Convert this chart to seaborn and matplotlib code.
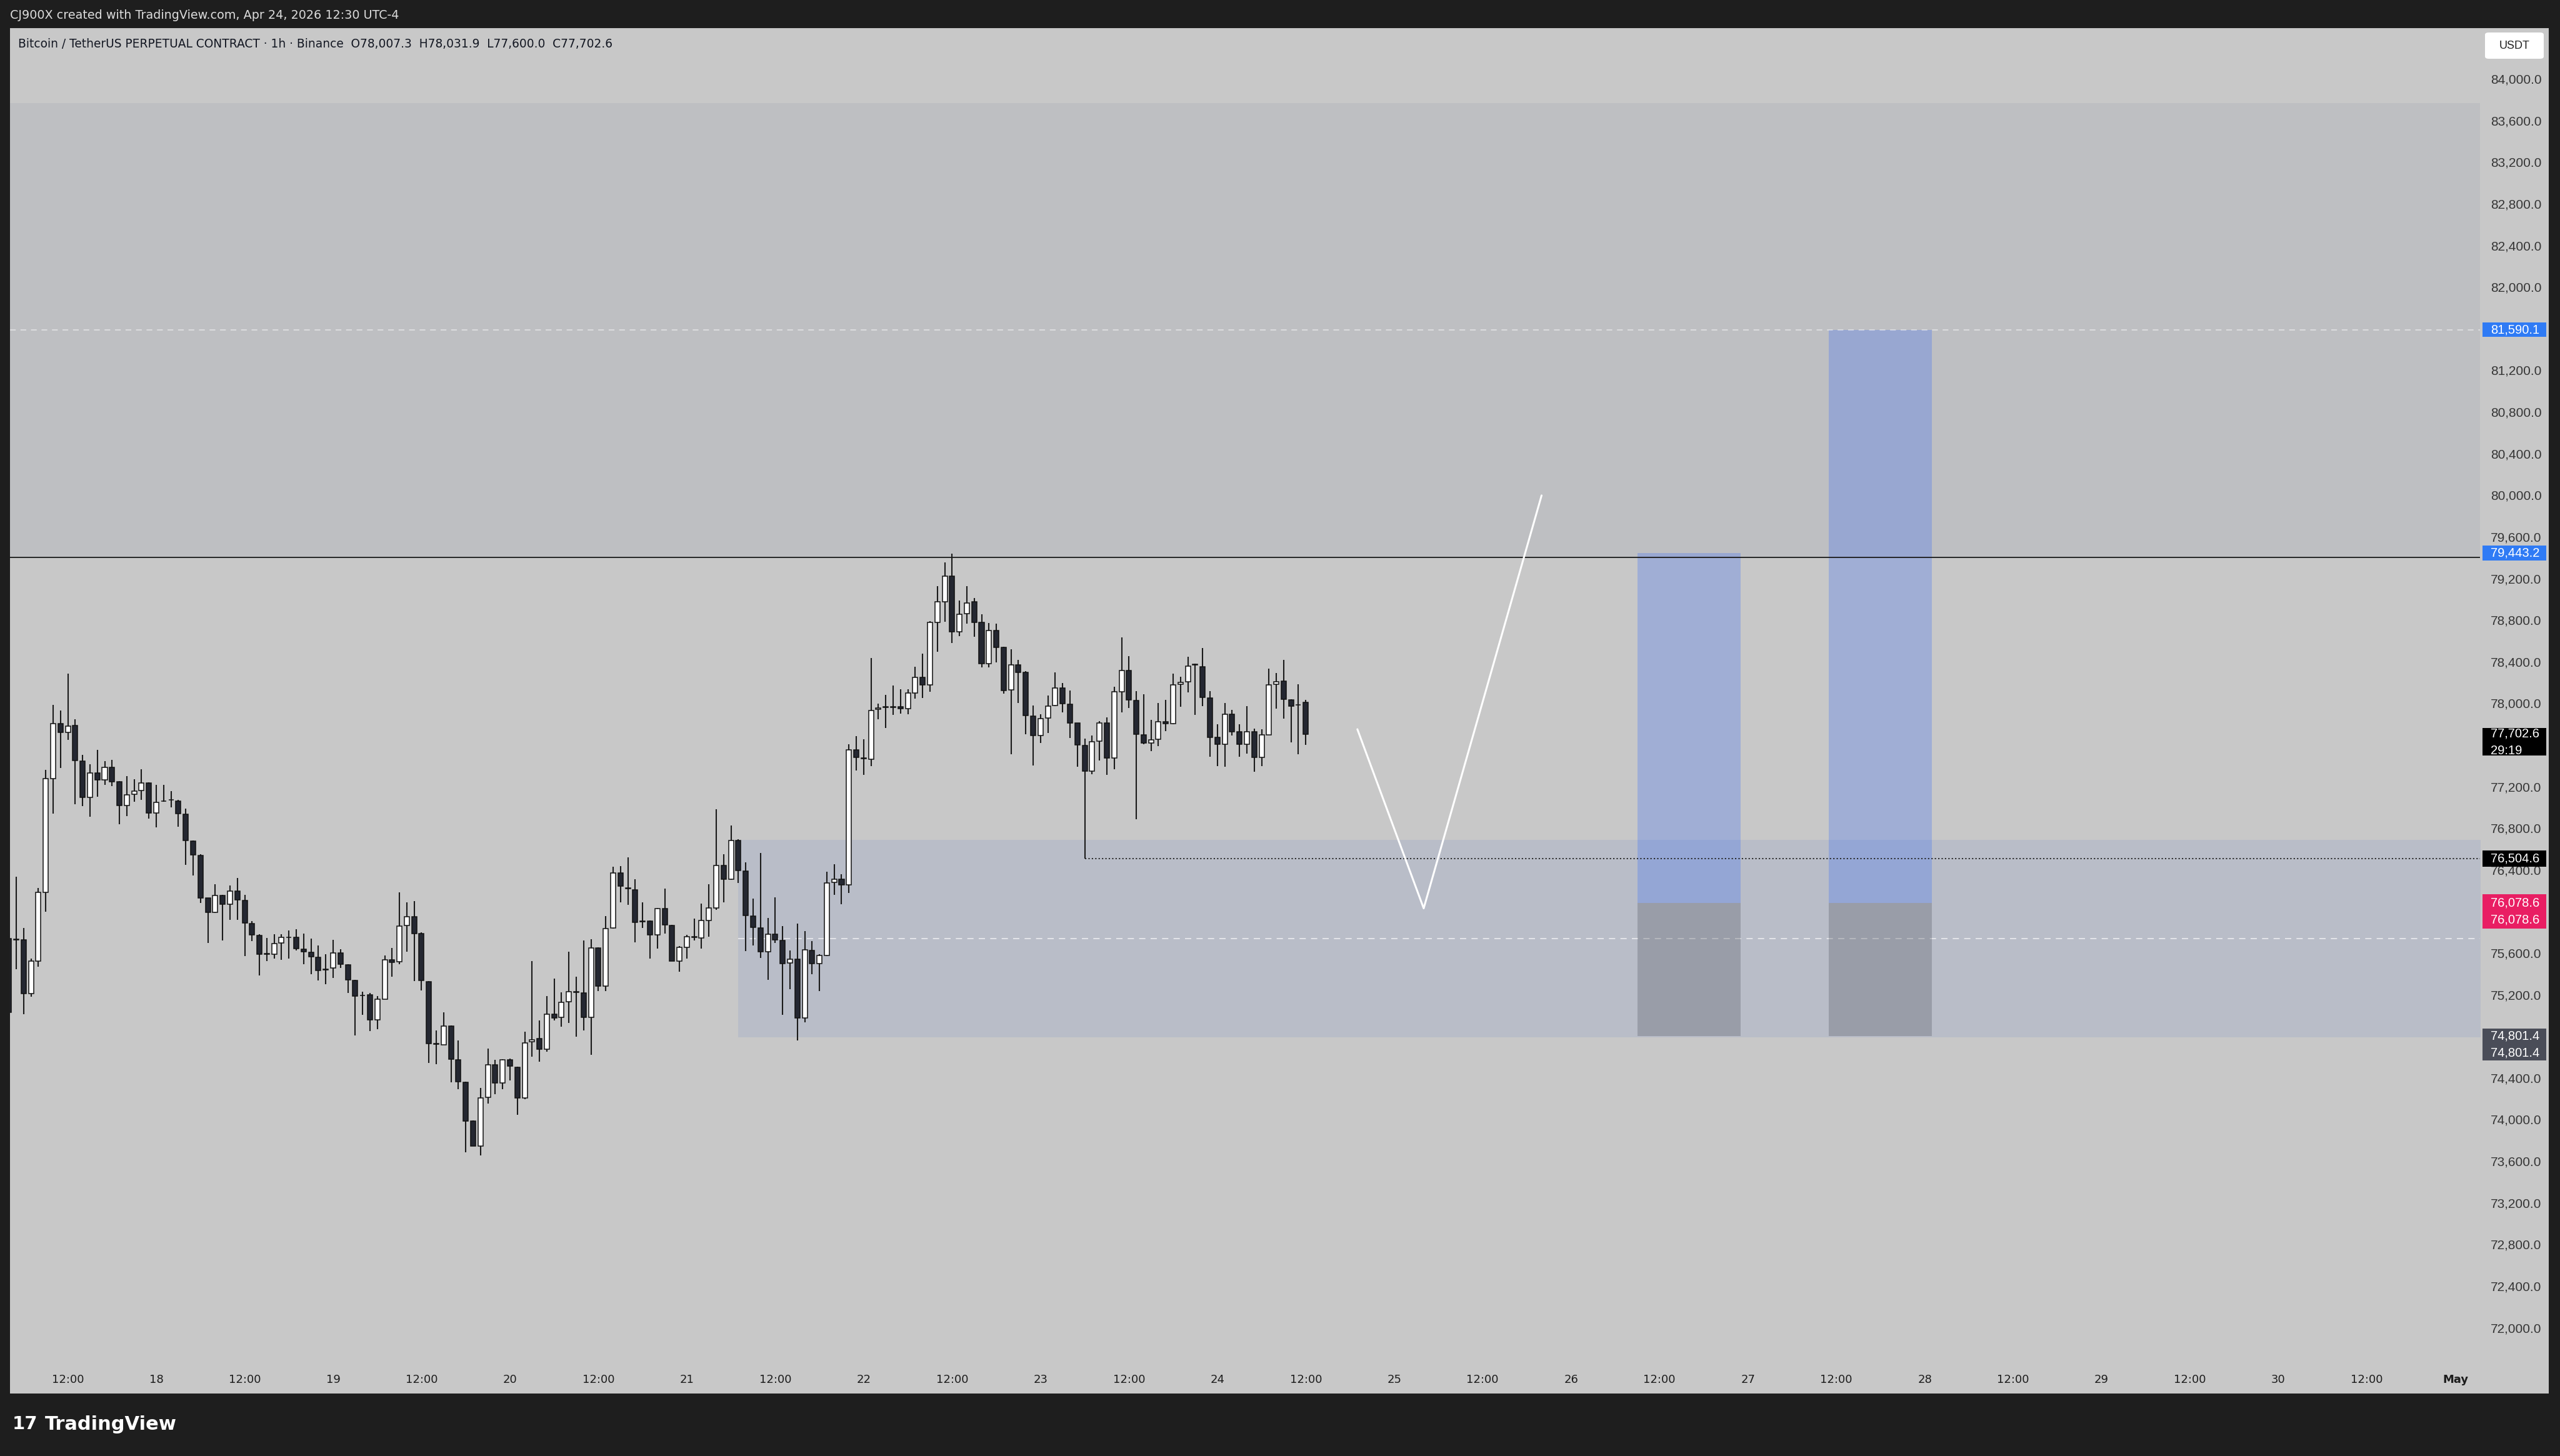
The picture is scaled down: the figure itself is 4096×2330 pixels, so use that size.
import numpy as np
import pandas as pd
import matplotlib
matplotlib.use("Agg")
import matplotlib.pyplot as plt
import matplotlib.dates as mdates
import matplotlib.transforms as mtransforms
from matplotlib.patches import Rectangle, FancyBboxPatch
import seaborn as sns

# BTCUSDT perp, 1h candles, Apr 17 04:00 -> Apr 24 12:00 (UTC-4)
first_candle = "2026-04-17 04:00"

opens = [
    75740, 75732, 75725, 75208, 75525, 76181, 77278, 77802, 77722, 77784,
    77446, 77096, 77331, 77266, 77381, 77246, 77016, 77124, 77163, 77232,
    76947, 77062, 77073, 77060, 76935, 76676, 76538, 76128, 75990, 76151,
    76066, 76192, 76105, 75882, 75767, 75592, 75591, 75695, 75751, 75749,
    75639, 75609, 75559, 75444, 75458, 75601, 75488, 75338, 75194, 75200,
    74958, 75154, 75535, 75515, 75865, 75949, 75789, 75324, 74727, 74719,
    74898, 74573, 74357, 73986, 73742, 74213, 74527, 74353, 74573, 74503,
    74207, 74745, 74777, 74677, 75010, 74984, 75134, 75226, 75214, 74984,
    75649, 75284, 75839, 76370, 76224, 76209, 75903, 75909, 75775, 76029,
    75865, 75525, 75655, 75757, 75745, 75915, 76031, 76440, 76310, 76680,
    76386, 75955, 75841, 75615, 75779, 75721, 75504, 75540, 74974, 75624,
    75497, 75576, 76280, 76308, 76254, 77552, 77471, 77463, 77945, 77966,
    77966, 77968, 77950, 78099, 78249, 78179, 78777, 78974, 79219, 78688,
    78862, 78974, 78777, 78379, 78697, 78538, 78131, 78369, 78296, 77876,
    77692, 77860, 77978, 78147, 77990, 77808, 77594, 77347, 77638, 77808,
    77473, 78112, 78313, 78028, 77698, 77618, 77654, 77824, 77804, 78182,
    78204, 78372, 78353, 78052, 77672, 77604, 77894, 77724, 77604, 77724,
    77481, 77698, 78182, 78212, 78034, 77982, 78007.3,
]
highs = [
    75760, 76335, 75840, 75548, 76227, 77361, 77986, 77929, 78285, 77848,
    77503, 77411, 77549, 77446, 77457, 77250, 77297, 77269, 77365, 77239,
    77217, 77216, 77158, 77071, 76986, 76680, 76549, 76128, 76261, 76158,
    76250, 76323, 76158, 75909, 75778, 75744, 75781, 75779, 75815, 75829,
    75789, 75739, 75675, 75589, 75729, 75639, 75494, 75344, 75230, 75214,
    75184, 75575, 75649, 76181, 76085, 76101, 75799, 75328, 74858, 75028,
    74904, 74757, 74363, 73992, 74303, 74683, 74573, 74580, 74583, 74507,
    74843, 75521, 74954, 75184, 75354, 75224, 75614, 75374, 75719, 75735,
    75655, 75955, 76426, 76436, 76516, 76306, 76085, 75915, 76035, 76216,
    75869, 75665, 75775, 75931, 76075, 76262, 76983, 76550, 76826, 76696,
    76470, 76125, 76560, 75935, 76135, 75859, 75625, 75885, 75809, 75713,
    75586, 76381, 76451, 76359, 77606, 77685, 77654, 78433, 77994, 78083,
    78169, 78137, 78137, 78353, 78474, 78790, 79126, 79356, 79435, 78990,
    79123, 79012, 78856, 78773, 78767, 78544, 78519, 78417, 78306, 77978,
    77892, 78073, 78296, 78194, 78124, 77812, 77662, 77692, 77828, 77862,
    78158, 78633, 78453, 78118, 78088, 77842, 78004, 78032, 78284, 78252,
    78445, 78379, 78529, 78118, 77798, 78004, 77938, 77798, 77974, 77758,
    77748, 78333, 78293, 78419, 78038, 78184, 78031.9,
]
lows = [
    75000, 75445, 75012, 75180, 75468, 75997, 76940, 77377, 77648, 77027,
    77013, 76910, 77101, 77216, 77204, 76836, 76917, 77055, 77073, 76894,
    76806, 77054, 76997, 76813, 76445, 76342, 76082, 75698, 75985, 75721,
    75916, 75916, 75571, 75714, 75387, 75521, 75545, 75535, 75545, 75625,
    75494, 75394, 75338, 75298, 75358, 75454, 75218, 74807, 75008, 74847,
    74867, 75154, 75370, 75495, 75611, 75328, 75240, 74543, 74533, 74719,
    74357, 74293, 73682, 73742, 73652, 74152, 74243, 74293, 74373, 74046,
    74197, 74603, 74553, 74653, 74954, 74894, 74928, 74793, 74853, 74623,
    75234, 75234, 75835, 76089, 76061, 75705, 75839, 75545, 75641, 75785,
    75521, 75420, 75545, 75719, 75645, 75755, 76015, 76089, 76302, 76270,
    75619, 75675, 75555, 75344, 75695, 75004, 75254, 74759, 74934, 75395,
    75236, 75570, 76159, 76069, 76174, 77351, 77310, 77393, 77845, 77765,
    77886, 77902, 77892, 78045, 78051, 78109, 78497, 78783, 78576, 78646,
    78767, 78640, 78347, 78347, 78395, 78093, 77511, 78004, 77701, 77399,
    77616, 77711, 77972, 77915, 77663, 77387, 76504.6, 77317, 77447, 77311,
    77367, 77914, 77954, 76886, 77608, 77538, 77588, 77732, 77798, 77968,
    78104, 77888, 77972, 77483, 77393, 77387, 77692, 77483, 77513, 77341,
    77393, 77698, 77948, 77852, 77622, 77507, 77600.0,
]
closes = [
    75030, 75728, 75208, 75525, 76181, 77278, 77802, 77722, 77779, 77450,
    77096, 77331, 77266, 77381, 77246, 77016, 77117, 77154, 77232, 76947,
    77048, 77058, 77070, 76940, 76680, 76542, 76128, 75990, 76151, 76066,
    76192, 76112, 75886, 75774, 75587, 75589, 75689, 75749, 75748, 75641,
    75613, 75565, 75434, 75441, 75601, 75494, 75344, 75188, 75190, 74958,
    75154, 75535, 75513, 75861, 75949, 75789, 75334, 74727, 74724, 74898,
    74577, 74363, 73986, 73742, 74207, 74527, 74353, 74573, 74513, 74207,
    74733, 74765, 74677, 75010, 74978, 75128, 75228, 75222, 74984, 75649,
    75284, 75835, 76366, 76242, 76220, 75895, 75907, 75775, 76029, 75871,
    75525, 75653, 75755, 75753, 75911, 76031, 76440, 76310, 76680, 76392,
    75961, 75845, 75615, 75779, 75725, 75500, 75538, 74974, 75631, 75497,
    75576, 76270, 76308, 76254, 77552, 77479, 77467, 77930, 77952, 77963,
    77963, 77950, 78099, 78249, 78179, 78777, 78974, 79219, 78688, 78856,
    78964, 78777, 78379, 78697, 78538, 78124, 78369, 78299, 77883, 77692,
    77854, 77972, 78147, 77994, 77812, 77602, 77347, 77628, 77808, 77473,
    78112, 78313, 78034, 77702, 77618, 77648, 77824, 77804, 78178, 78198,
    78359, 78368, 78058, 77674, 77604, 77894, 77728, 77604, 77724, 77481,
    77698, 78174, 78208, 78038, 77972, 77985, 77702.6,
]

# drawings
resistance = 79400.0
upper_zone = (79400.0, 83770.0)
demand_zone = (74790.0, 76686.0)
demand_start = "2026-04-21 07:00"
swing_low = 76504.6
swing_low_time = "2026-04-23 06:00"
path_times = ["2026-04-24 19:00", "2026-04-25 04:00", "2026-04-25 20:00"]
path_prices = [77750, 76029, 79997]
pos_starts = ["2026-04-26 09:00", "2026-04-27 11:00"]
pos_hours = 14
pos_targets = [79443.2, 81590.1]
pos_entry = 76078.6
pos_stop = 74801.4
countdown = "29:19"

price_ticks = list(range(72000, 84001, 400))
tick_times = pd.date_range("2026-04-17 12:00", "2026-05-01 00:00", freq="12h")

W, H = 4096, 2330
BG = "#c8c8c8"
sns.set_style("white", {"axes.facecolor": BG})
plt.rcParams["font.family"] = ["DejaVu Sans"]

fig = plt.figure(figsize=(W / 100, H / 100), dpi=100, facecolor="#1e1e1e")
fig.add_artist(Rectangle((16 / W, 1 - 2230 / H), (4078 - 16) / W, (2230 - 45) / H,
                         transform=fig.transFigure, facecolor=BG, edgecolor="none", zorder=0))
ax = fig.add_axes([16 / W, 1 - 2230 / H, (3968 - 16) / W, (2230 - 45) / H])
ax.set_facecolor(BG)
for s in ax.spines.values():
    s.set_visible(False)

times = pd.date_range(first_candle, periods=len(opens), freq="h")
xs = mdates.date2num(times.to_pydatetime())
o = np.array(opens); h = np.array(highs); l = np.array(lows); c = np.array(closes)
x_right = mdates.date2num(pd.Timestamp("2026-05-01 03:21").to_pydatetime())
x_left = mdates.date2num(pd.Timestamp("2026-04-17 04:09").to_pydatetime())
hour = 1 / 24

# zones
ax.axhspan(*upper_zone, color="#bebfc2", lw=0, zorder=0.5)
zx = mdates.date2num(pd.Timestamp(demand_start).to_pydatetime())
ax.fill_between([zx, x_right + 1], demand_zone[0], demand_zone[1], color="#b9bdc8", lw=0, zorder=0.6)
ax.hlines(np.mean(demand_zone), zx, x_right + 1, color="white", alpha=0.7, lw=1.2,
          linestyles=(0, (6, 5)), zorder=0.7)

# long position boxes
for start, tgt in zip(pos_starts, pos_targets):
    bx = mdates.date2num(pd.Timestamp(start).to_pydatetime())
    ax.bar(bx, tgt - pos_entry, bottom=pos_entry, width=pos_hours * hour, align="edge",
           color=(41 / 255, 98 / 255, 1.0, 0.25), lw=0, zorder=1)
    ax.bar(bx, pos_entry - pos_stop, bottom=pos_stop, width=pos_hours * hour, align="edge",
           color=(90 / 255, 94 / 255, 104 / 255, 0.33), lw=0, zorder=1)

# horizontal levels
ax.axhline(resistance, color="#1a1a1a", lw=1.3, zorder=2)
ax.axhline(pos_targets[1], color="white", alpha=0.6, lw=1.1, ls=(0, (6, 5)), zorder=1.5)
sx = mdates.date2num(pd.Timestamp(swing_low_time).to_pydatetime())
ax.hlines(swing_low, sx, x_right + 1, color="#202020", lw=1.3, linestyles=(0, (1.2, 1.8)), zorder=2)

# candles
up = c >= o
ax.vlines(xs, l, h, color="#1b1b1b", lw=1.5, zorder=3)
body_lo = np.minimum(o, c)
body_hi = np.maximum(o, c)
ax.bar(xs, body_hi - body_lo, bottom=body_lo, width=0.68 * hour,
       color=np.where(up, "#ffffff", "#242731"), edgecolor="#111111", lw=1.1, zorder=4)

# projected path
path_x = mdates.date2num(pd.to_datetime(path_times).to_pydatetime())
sns.lineplot(x=path_x, y=path_prices, color="white", lw=2.2, sort=False, estimator=None, ax=ax, zorder=3)

ax.set_xlim(x_left, x_right)
ax.set_ylim(71366.7, 84487.6)

# price axis tags (text lines, top, bottom, colour)
tags = [
    ([(f"{pos_targets[1]:,.1f}", pos_targets[1])], pos_targets[1] + 70, pos_targets[1] - 70, "#2f7bf5"),
    ([(f"{pos_targets[0]:,.1f}", pos_targets[0])], pos_targets[0] + 70, pos_targets[0] - 70, "#2f7bf5"),
    ([(f"{closes[-1]:,.1f}", closes[-1] + 5), (countdown, closes[-1] - 160)], closes[-1] + 62, closes[-1] - 205, "#000000"),
    ([(f"{swing_low:,.1f}", swing_low)], swing_low + 78, swing_low - 78, "#000000"),
    ([(f"{pos_entry:,.1f}", pos_entry), (f"{pos_entry:,.1f}", pos_entry - 162)], pos_entry + 88, pos_entry - 242, "#e91e63"),
    ([(f"{pos_stop:,.1f}", pos_stop), (f"{pos_stop:,.1f}", pos_stop - 164)], pos_stop + 75, pos_stop - 237, "#4a4d58"),
]


def covered(p):
    # tick labels sitting fully under a tag are not visible in the reference
    return any(bot + 40 < p < top - 40 for _, top, bot, _ in tags)


ax.yaxis.tick_right()
ax.set_yticks(price_ticks)
ax.set_yticklabels(["" if covered(p) else f"{p:,.1f}" for p in price_ticks])
ax.tick_params(axis="y", length=0, pad=12, labelsize=15, labelcolor="#353535")
for lab in ax.get_yticklabels():
    lab.set_fontfamily("Liberation Sans")

ax.set_xticks(mdates.date2num(tick_times.to_pydatetime()))
tl = []
for t in tick_times:
    if t.hour == 12:
        tl.append("12:00")
    elif t.day == 1:
        tl.append(t.strftime("%b"))
    else:
        tl.append(str(t.day))
ax.set_xticklabels(tl)
ax.tick_params(axis="x", length=0, direction="in", pad=-22, labelsize=13, labelcolor="#1c1c1c")
for lab in ax.get_xticklabels():
    if lab.get_text() == "May":
        lab.set_fontweight("bold")
ax.set_xlabel(""); ax.set_ylabel("")

tr = mtransforms.blended_transform_factory(ax.transAxes, ax.transData)
bx0 = (3972 - 16) / (3968 - 16)
bx1 = (4074 - 16) / (3968 - 16)
tx = (3985 - 16) / (3968 - 16)
for lines, top, bottom, face in tags:
    ax.add_patch(Rectangle((bx0, bottom), bx1 - bx0, top - bottom, transform=tr,
                           facecolor=face, edgecolor="none", clip_on=False, zorder=6))
    for txt, y in lines:
        ax.text(tx, y, txt, transform=tr, ha="left", va="center", color="white", fontsize=14.5,
                family="Liberation Sans", clip_on=False, zorder=7)

# currency button
fig.add_artist(FancyBboxPatch((3976 / W, 1 - 94 / H), 94 / W, 42 / H, transform=fig.transFigure,
                              boxstyle="round,pad=0,rounding_size=0.0015", facecolor="white",
                              edgecolor="none", zorder=5))
fig.text(4023 / W, 1 - 73 / H, "USDT", ha="center", va="center", fontsize=13, color="#222222",
         family="Liberation Sans", zorder=6)

# header / footer text
fig.text(16 / W, 1 - 25 / H, "CJ900X created with TradingView.com, Apr 24, 2026 12:30 UTC-4",
         ha="left", va="center", fontsize=13.8, color="#dcdcdc")
fig.text(29 / W, 1 - 70 / H,
         "Bitcoin / TetherUS PERPETUAL CONTRACT \u00b7 1h \u00b7 Binance  O78,007.3  H78,031.9  L77,600.0  C77,702.6",
         ha="left", va="center", fontsize=13.4, color="#131722")
fig.text(20 / W, 1 - 2279 / H, "17", ha="left", va="center", fontsize=21, fontweight="heavy", color="white")
fig.text(72 / W, 1 - 2279 / H, "TradingView", ha="left", va="center", fontsize=22,
         fontweight="bold", color="white")

fig.savefig("out.png", dpi=100, facecolor=fig.get_facecolor())
